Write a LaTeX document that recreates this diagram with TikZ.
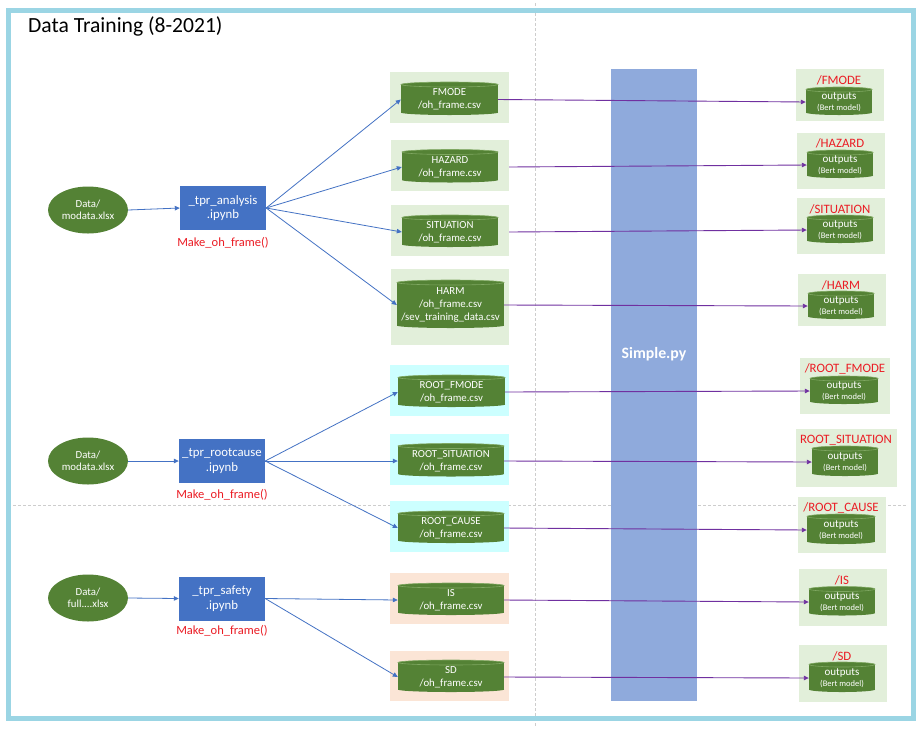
\documentclass[tikz,border=0pt]{standalone}
\usepackage{fontspec}
\setmainfont{Carlito}
\usetikzlibrary{shapes.geometric,arrows.meta}
\definecolor{framecol}{RGB}{155,213,228}
\definecolor{cylg}{RGB}{84,130,53}
\definecolor{cyledge}{RGB}{128,168,98}
\definecolor{procblue}{RGB}{68,114,196}
\definecolor{lgreen}{RGB}{226,239,218}
\definecolor{lcyan}{RGB}{204,255,255}
\definecolor{lpeach}{RGB}{251,229,214}
\definecolor{barblue}{RGB}{143,170,220}
\definecolor{redtxt}{RGB}{235,28,36}
\definecolor{purp}{RGB}{112,48,160}
\definecolor{dashgrey}{RGB}{205,205,205}
\tikzset{
  cylnode/.style={inner sep=0pt, text=white, align=center, font=\fontsize{10.8}{13}\selectfont},
  outnode/.style={inner sep=0pt, text=white, align=center, font=\fontsize{11}{11.5}\selectfont},
  bgbox/.style={inner sep=0pt, draw=none},
  datanode/.style={ellipse, fill=cylg, inner sep=0pt, minimum width=80pt, minimum height=47pt, text=white, align=center, font=\fontsize{10.8}{12.5}\selectfont},
  procnode/.style={rectangle, fill=procblue, inner sep=0pt, minimum width=86pt, minimum height=44pt, text=white, align=center, font=\fontsize{12.8}{14.5}\selectfont},
  fnlabel/.style={inner sep=0pt, text=redtxt, font=\fontsize{12.5}{14}\selectfont},
  outlabel/.style={inner sep=0pt, text=redtxt, font=\fontsize{12.8}{14}\selectfont},
  bluearr/.style={draw=procblue, line width=0.8pt, -{Triangle[length=5pt,width=4.5pt]}},
  purparr/.style={draw=purp, line width=0.9pt, -{Triangle[length=5pt,width=4.5pt]}},
  dashline/.style={draw=dashgrey, line width=0.6pt, dash pattern=on 3pt off 2pt},
}
% name, cx, cy, w, h, text, style
\newcommand{\dcyl}[7]{%
  \fill[cylg] ({#2-#4/2},{#3-#5/2+2.5}) rectangle ({#2+#4/2},{#3+#5/2-2.5});
  \fill[cylg] (#2,{#3+#5/2-2.5}) ellipse [x radius={#4/2}, y radius=2.5];
  \fill[cylg] (#2,{#3-#5/2+2.5}) ellipse [x radius={#4/2}, y radius=2.5];
  \draw[cyledge, line width=0.6pt] (#2,{#3-#5/2+2.5}) ellipse [x radius={#4/2}, y radius=2.5];
  \node[#7, minimum width=#4pt, minimum height=#5pt] (#1) at (#2,{#3+1}) {#6};
}
\newcommand{\bgrect}[6]{% name, cx, cy, w, h, colour
  \node[bgbox, fill=#6, minimum width=#4pt, minimum height=#5pt] (#1) at (#2,#3) {};
}
\begin{document}
\begin{tikzpicture}[x=1pt,y=-1pt]
\useasboundingbox (0,0) rectangle (923,729);
\fill[white] (0,0) rectangle (923,729);
% guide lines
\draw[dashline] (535,3) -- (535,726);
\draw[dashline] (8,505) -- (907,505);
% frame
\draw[framecol, line width=5pt] (8.5,10.5) rectangle (913.5,718);
% title
\node[anchor=west, inner sep=0pt, font=\fontsize{21.6}{24}\selectfont] (title) at (28,26) {Data Training (8-2021)};

% simple.py bar
\node[bgbox, fill=barblue, minimum width=86pt, minimum height=632pt] (bar) at (654,385) {};
\node[inner sep=0pt, text=white, font=\bfseries\fontsize{15.8}{17}\selectfont] (simple) at (654,354) {Simple.py};

% left column
\node[datanode] (d1) at (88,210) {Data/\\modata.xlsx};
\node[procnode] (p1) at (223,208) {\_tpr\_analysis\\.ipynb};
\node[fnlabel] (f1) at (223,243) {Make\_oh\_frame()};

\node[datanode] (d2) at (88,461) {Data/\\modata.xlsx};
\node[procnode] (p2) at (222,461) {\_tpr\_rootcause\\.ipynb};
\node[fnlabel] (f2) at (222,495) {Make\_oh\_frame()};

\node[datanode] (d3) at (88,598) {Data/\\full....xlsx};
\node[procnode] (p3) at (222,598.5) {\_tpr\_safety\\.ipynb};
\node[fnlabel] (f3) at (222,631) {Make\_oh\_frame()};

% middle column backgrounds
\bgrect{b1}{449.5}{97.5}{119}{51}{lgreen}
\bgrect{b2}{450}{165.5}{118}{51}{lgreen}
\bgrect{b3}{450}{230.5}{118}{51}{lgreen}
\bgrect{b4}{450}{307}{118}{76}{lgreen}
\bgrect{b5}{449.5}{390.5}{119}{51}{lcyan}
\bgrect{b6}{449.5}{459.5}{119}{51}{lcyan}
\bgrect{b7}{449.5}{526.5}{119}{51}{lcyan}
\bgrect{b8}{449.5}{598.5}{119}{51}{lpeach}
\bgrect{b9}{449.5}{676}{119}{50}{lpeach}

% middle cylinders
\dcyl{c1}{449.5}{98.5}{97}{33}{FMODE\\/oh\_frame.csv}{cylnode}
\dcyl{c2}{450}{166}{96}{33}{HAZARD\\/oh\_frame.csv}{cylnode}
\dcyl{c3}{450}{231}{96}{32}{SITUATION\\/oh\_frame.csv}{cylnode}
\dcyl{c4}{450.5}{304}{107}{48}{HARM\\/oh\_frame.csv\\/sev\_training\_data.csv}{cylnode}
\dcyl{c5}{451.5}{391}{107}{32}{ROOT\_FMODE\\/oh\_frame.csv}{cylnode}
\dcyl{c6}{451}{460}{106}{33}{ROOT\_SITUATION\\/oh\_frame.csv}{cylnode}
\dcyl{c7}{451}{527}{106}{32}{ROOT\_CAUSE\\/oh\_frame.csv}{cylnode}
\dcyl{c8}{451}{599}{106}{32}{IS\\/oh\_frame.csv}{cylnode}
\dcyl{c9}{451}{676}{106}{32}{SD\\/oh\_frame.csv}{cylnode}

% right column backgrounds
\bgrect{r1}{840}{95}{88}{52}{lgreen}
\bgrect{r2}{841}{161}{88}{56}{lgreen}
\bgrect{r3}{841}{226}{88}{56}{lgreen}
\bgrect{r4}{842}{300}{88}{52}{lgreen}
\bgrect{r5}{845}{386}{90}{56}{lgreen}
\bgrect{r6}{846.5}{458}{101}{58}{lgreen}
\bgrect{r7}{842}{525}{88}{56}{lgreen}
\bgrect{r8}{843}{597.5}{88}{57}{lgreen}
\bgrect{r9}{843}{673.5}{88}{57}{lgreen}

% right labels
\node[outlabel] (l1) at (839,80) {/FMODE};
\node[outlabel] (l2) at (840,143) {/HAZARD};
\node[outlabel] (l3) at (840,209) {/SITUATION};
\node[outlabel] (l4) at (841,285) {/HARM};
\node[outlabel] (l5) at (845,369) {/ROOT\_FMODE};
\node[outlabel] (l6) at (846,440) {ROOT\_SITUATION};
\node[outlabel] (l7) at (841,508) {/ROOT\_CAUSE};
\node[outlabel] (l8) at (842,580) {/IS};
\node[outlabel] (l9) at (842,656) {/SD};

% right cylinders
\newcommand{\outtxt}{outputs\\[-1pt]{\fontsize{8.5}{10}\selectfont (Bert model)}}
\dcyl{o1}{839}{101}{66}{28}{\outtxt}{outnode}
\dcyl{o2}{840}{164}{66}{28}{\outtxt}{outnode}
\dcyl{o3}{840}{229}{66}{28}{\outtxt}{outnode}
\dcyl{o4}{841}{305}{66}{28}{\outtxt}{outnode}
\dcyl{o5}{844}{390}{68}{28}{\outtxt}{outnode}
\dcyl{o6}{845}{461}{66}{30}{\outtxt}{outnode}
\dcyl{o7}{841}{529}{68}{30}{\outtxt}{outnode}
\dcyl{o8}{842}{601}{66}{29}{\outtxt}{outnode}
\dcyl{o9}{842}{677}{66}{30}{\outtxt}{outnode}

% blue connectors
\draw[bluearr] (d1.east) -- (p1.west);
\draw[bluearr] (d2.east) -- (p2.west);
\draw[bluearr] (d3.east) -- (p3.west);
\foreach \c in {c1,c2,c3,c4} \draw[bluearr] (p1.east) -- (\c.west);
\foreach \c in {c5,c6,c7} \draw[bluearr] (p2.east) -- (\c.west);
\foreach \c in {c8,c9} \draw[bluearr] (p3.east) -- (\c.west);

% purple connectors
\draw[purparr] (c1.east) -- (o1.west);
\draw[purparr] (c2.east -| b2.east) -- (o2.west);
\draw[purparr] (c3.east -| b3.east) -- (o3.west);
\draw[purparr] (c4.east) -- (o4.west);
\draw[purparr] (c5.east) -- (o5.west);
\draw[purparr] (c6.east) -- (o6.west);
\draw[purparr] (c7.east) -- (o7.west);
\draw[purparr] (c8.east) -- (o8.west);
\draw[purparr] (c9.east) -- (o9.west);
\end{tikzpicture}
\end{document}
